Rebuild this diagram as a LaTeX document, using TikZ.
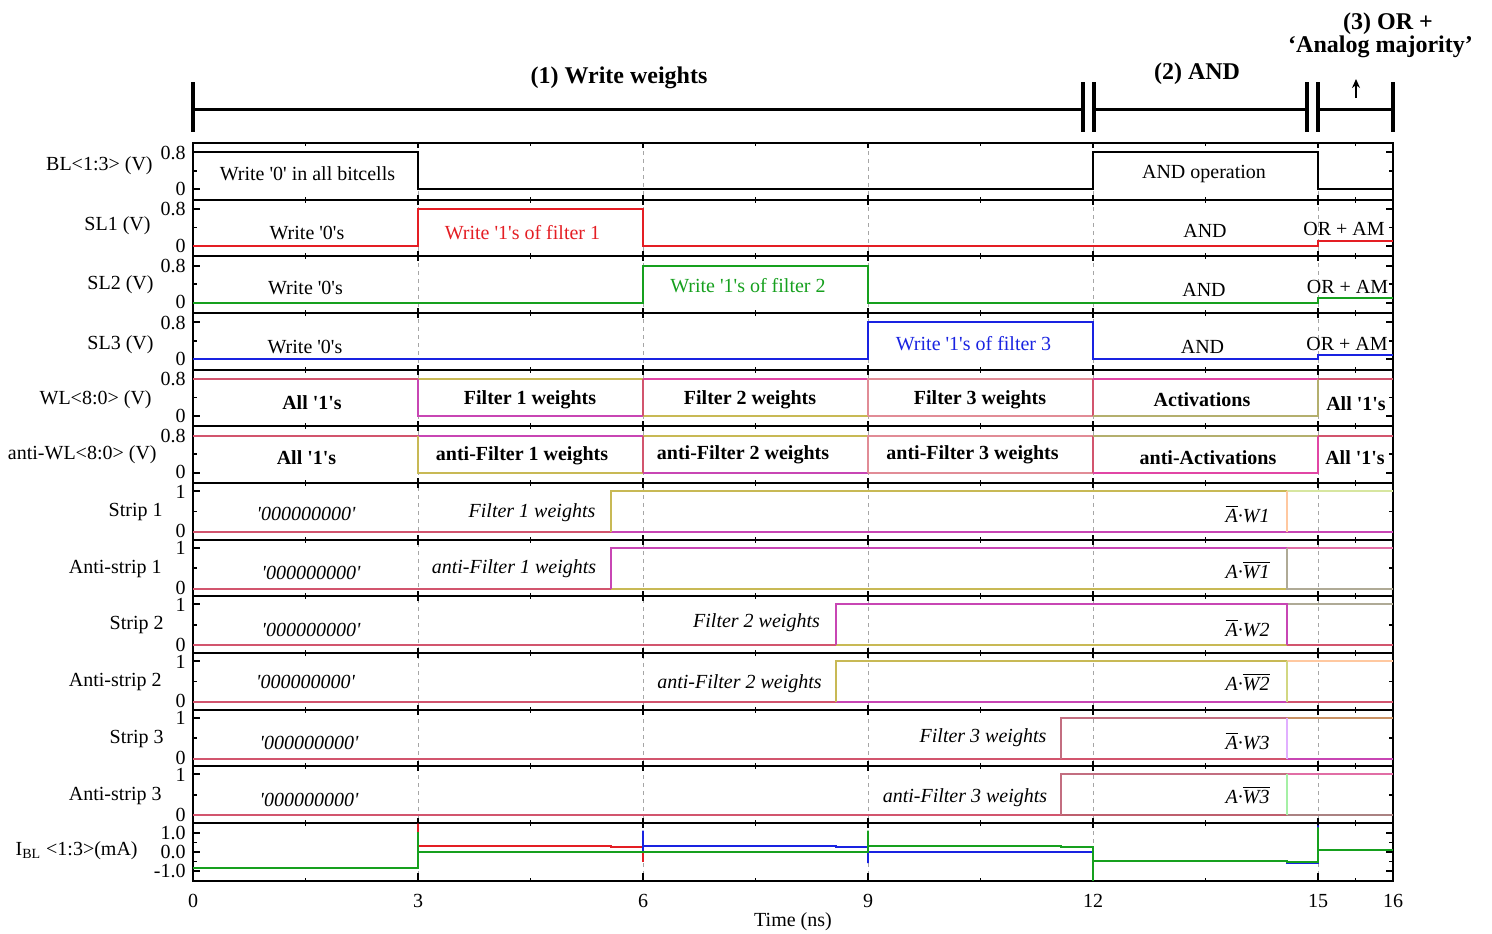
\documentclass[tikz,border=0pt]{standalone}
\usepackage{fontspec}
\setmainfont{Liberation Serif}
\usetikzlibrary{arrows.meta}

\definecolor{cRed}{RGB}{228,30,36}
\definecolor{cGreen}{RGB}{22,160,30}
\definecolor{cBlue}{RGB}{25,35,225}
\definecolor{cPR}{RGB}{210,85,110}
\definecolor{cPRl}{RGB}{225,140,150}
\definecolor{cMag}{RGB}{200,70,180}
\definecolor{cMagB}{RGB}{225,70,165}
\definecolor{cOli}{RGB}{200,185,85}
\definecolor{cOliG}{RGB}{180,175,110}
\definecolor{cLtGrn}{RGB}{215,230,160}
\definecolor{cPeach}{RGB}{255,200,160}
\definecolor{cGrayO}{RGB}{175,170,150}
\definecolor{cLtOli}{RGB}{210,215,130}
\definecolor{cBrown}{RGB}{200,145,100}
\definecolor{cViolet}{RGB}{225,175,255}
\definecolor{cRose}{RGB}{195,110,128}
\definecolor{cRoseD}{RGB}{190,95,110}
\definecolor{cPink}{RGB}{225,110,165}
\definecolor{cGrayB}{RGB}{170,130,130}
\definecolor{cMint}{RGB}{165,240,165}

\newcommand\sq{\textquotesingle}
\newcommand\ovl[1]{\ensuremath{\overline{\hbox{\itshape #1}}}}

\begin{document}
\begin{tikzpicture}[x=0.5pt,y=-0.5pt,
  txt/.style={inner sep=0pt, font=\fontsize{10}{12}\selectfont},
  boldtxt/.style={inner sep=0pt, font=\fontsize{10}{12}\selectfont\bfseries},
  itxt/.style={inner sep=0pt, font=\fontsize{10}{12}\selectfont\itshape},
  hdr/.style={inner sep=0pt, font=\fontsize{12}{14}\selectfont\bfseries},
  rowlbl/.style={txt, anchor=east},
  ticklbl/.style={txt, anchor=east},
  pframe/.style={line width=0.9pt, black},
  gridline/.style={black!35, line width=0.4pt, dash pattern=on 2pt off 2pt},
  sig/.style={line width=1pt},
  bar/.style={line width=1.8pt},
  span/.style={line width=1.5pt},
  vpan/.style={shift={(0,#1)}, y=23.125pt},
  spn/.style={shift={(0,#1)}, y=20.5pt},
  ipan/.style={shift={(0,#1)}, y=9.5pt},
]
\useasboundingbox (0,0) rectangle (1492,933);

% ---- phase brackets ----
\foreach \bx in {193,1083,1094,1307,1318,1393}
  \draw[bar] (\bx,82) -- (\bx,132);
\draw[span] (193,109) -- (1083,109);
\draw[span] (1094,109) -- (1307,109);
\draw[span] (1318,109) -- (1393,109);
\node[hdr] (h1) at (619,77.5) {(1) Write weights};
\node[hdr] (h2) at (1197,74) {(2) AND};
\node[hdr] (h3a) at (1388,23.5) {(3) OR +};
\node[hdr] (h3b) at (1380.5,46.5) {`Analog majority'};
\coordinate (arrB) at (1356,98);
\coordinate (arrT) at (1356,79);
\draw[line width=0.8pt, -{Stealth[length=4.5pt,width=4pt]}] (arrB) -- (arrT);

% ---- time axis scope: x in ns, y in px ----
\begin{scope}[shift={(193,0)}, x=37.5pt]
  \foreach \t in {3,6,9,12,15}
    \draw[gridline] (\t,143) -- (\t,881);

  % panel frames and x ticks
  \foreach \T in {143,199.67,256.33,313,369.67,426.33,483,539.67,596.33,653,709.67,766.33} {
    \draw[pframe] (0,\T) rectangle (16,\T+56.67);
  }
  \draw[pframe] (0,823) rectangle (16,881);
  \foreach \T/\B in {143/199.67,199.67/256.33,256.33/313,313/369.67,369.67/426.33,426.33/483,483/539.67,539.67/596.33,596.33/653,653/709.67,709.67/766.33,766.33/823,823/881} {
    \foreach \t in {3,6,9,12,15} {
      \draw[pframe] (\t,\T) -- ++(0,5);
      \draw[pframe] (\t,\B) -- ++(0,-5);
    }
    \foreach \t in {1.5,4.5,7.5,10.5,13.5,15.5} {
      \draw[pframe] (\t,\T) -- ++(0,3);
      \draw[pframe] (\t,\B) -- ++(0,-3);
    }
  }
  \foreach \t in {3,6,9,12,15} \draw[pframe] (\t,881) -- ++(0,-8);

  % y ticks, voltage panels
  \foreach \T in {143,199.67,256.33,313,369.67,426.33} {
    \foreach \d in {9.3,46.3} {
      \draw[pframe] (0,\T+\d) -- ++(3.5pt,0);
      \draw[pframe] (16,\T+\d) -- ++(-3.5pt,0);
    }
    \draw[pframe] (0,\T+27.8) -- ++(2pt,0);
    \draw[pframe] (16,\T+27.8) -- ++(-2pt,0);
  }
  % y ticks, strip panels
  \foreach \T in {483,539.67,596.33,653,709.67,766.33} {
    \foreach \d in {8,49} {
      \draw[pframe] (0,\T+\d) -- ++(3.5pt,0);
      \draw[pframe] (16,\T+\d) -- ++(-3.5pt,0);
    }
    \draw[pframe] (0,\T+28.5) -- ++(2pt,0);
    \draw[pframe] (16,\T+28.5) -- ++(-2pt,0);
  }
  % y ticks, current panel
  \foreach \yy in {833,852,871} {
    \draw[pframe] (0,\yy) -- ++(3.5pt,0);
    \draw[pframe] (16,\yy) -- ++(-3.5pt,0);
  }
  \foreach \yy in {842.5,861.5} {
    \draw[pframe] (0,\yy) -- ++(2pt,0);
    \draw[pframe] (16,\yy) -- ++(-2pt,0);
  }

  % ---- BL ----
  \begin{scope}[vpan=189.3]
    \draw[sig,black] (0,0.8) -- (3,0.8) -- (3,0) -- (12,0) -- (12,0.8) -- (15,0.8) -- (15,0) -- (16,0);
  \end{scope}
  % ---- SL1 ----
  \begin{scope}[vpan=246]
    \draw[sig,cRed] (0,0) -- (3,0) -- (3,0.8) -- (6,0.8) -- (6,0) -- (15,0) -- (15,0.11) -- (16,0.11);
  \end{scope}
  % ---- SL2 ----
  \begin{scope}[vpan=302.6]
    \draw[sig,cGreen] (0,0) -- (6,0) -- (6,0.8) -- (9,0.8) -- (9,0) -- (15,0) -- (15,0.1) -- (16,0.1);
  \end{scope}
  % ---- SL3 ----
  \begin{scope}[vpan=359.3]
    \draw[sig,cBlue] (0,0) -- (9,0) -- (9,0.8) -- (12,0.8) -- (12,0) -- (15,0) -- (15,0.1) -- (16,0.1);
  \end{scope}
  % ---- WL<8:0> ----
  \begin{scope}[vpan=416]
    \draw[sig,cPR] (0,0.8) -- (3,0.8);
    \draw[sig,cOli] (3,0.8) -- (6,0.8);
    \draw[sig,cMag] (3,0.8) -- (3,0) -- (6,0);
    \draw[sig,cOli] (6,0) -- (9,0);
    \draw[sig,cMagB] (6,0.8) -- (9,0.8);
    \draw[sig,cPR] (6,0) -- (6,0.8);
    \draw[sig,cPRl] (9,0) -- (9,0.8) -- (12,0.8);
    \draw[sig,cPRl] (9,0) -- (12,0);
    \draw[sig,cPR] (12,0) -- (12,0.8);
    \draw[sig,cMagB] (12,0.8) -- (15,0.8);
    \draw[sig,cOliG] (12,0) -- (15,0) -- (15,0.8);
    \draw[sig,cPR] (15,0.8) -- (16,0.8);
  \end{scope}
  % ---- anti-WL<8:0> ----
  \begin{scope}[vpan=472.6]
    \draw[sig,cPR] (0,0.8) -- (3,0.8);
    \draw[sig,cMag] (3,0.8) -- (6,0.8);
    \draw[sig,cOli] (3,0.8) -- (3,0) -- (6,0);
    \draw[sig,cOli] (6,0.8) -- (9,0.8);
    \draw[sig,cMag] (6,0) -- (9,0);
    \draw[sig,cPR] (6,0) -- (6,0.8);
    \draw[sig,cPRl] (9,0) -- (9,0.8) -- (12,0.8);
    \draw[sig,cPRl] (9,0) -- (12,0);
    \draw[sig,cPR] (12,0) -- (12,0.8);
    \draw[sig,cOliG] (12,0.8) -- (15,0.8);
    \draw[sig,cMagB] (12,0) -- (15,0) -- (15,0.8);
    \draw[sig,cPR] (15,0.8) -- (16,0.8);
  \end{scope}
  % ---- Strip 1 ----
  \begin{scope}[spn=532]
    \draw[sig,cPR] (0,0) -- (5.57,0);
    \draw[sig,cMag] (5.57,0) -- (16,0);
    \draw[sig,cOli] (5.57,0) -- (5.57,1) -- (14.59,1);
    \draw[sig,cLtGrn] (14.59,1) -- (16,1);
    \draw[sig,cPeach] (14.59,0) -- (14.59,1);
  \end{scope}
  % ---- Anti-strip 1 ----
  \begin{scope}[spn=588.7]
    \draw[sig,cPR] (0,0) -- (5.57,0);
    \draw[sig,cOli] (5.57,0) -- (14.59,0);
    \draw[sig,cMag] (5.57,0) -- (5.57,1) -- (14.59,1);
    \draw[sig,cPink] (14.59,1) -- (16,1);
    \draw[sig,cGrayO] (14.59,1) -- (14.59,0) -- (16,0);
  \end{scope}
  % ---- Strip 2 ----
  \begin{scope}[spn=645.3]
    \draw[sig,cPR] (0,0) -- (8.57,0);
    \draw[sig,cOli] (8.57,0) -- (14.59,0);
    \draw[sig,cGrayO] (14.59,1) -- (16,1);
    \draw[sig,cPR] (14.59,0) -- (16,0);
    \draw[sig,cMag] (8.57,0) -- (8.57,1) -- (14.59,1) -- (14.59,0);
  \end{scope}
  % ---- Anti-strip 2 ----
  \begin{scope}[spn=702]
    \draw[sig,cPR] (0,0) -- (8.57,0);
    \draw[sig,cMag] (8.57,0) -- (14.59,0);
    \draw[sig,cOli] (8.57,0) -- (8.57,1) -- (14.59,1);
    \draw[sig,cPeach] (14.59,1) -- (16,1);
    \draw[sig,cPR] (14.59,0) -- (16,0);
    \draw[sig,cLtOli] (14.59,0) -- (14.59,1);
  \end{scope}
  % ---- Strip 3 ----
  \begin{scope}[spn=758.7]
    \draw[sig,cPR] (0,0) -- (14.59,0);
    \draw[sig,cRose] (11.57,0) -- (11.57,1) -- (14.59,1);
    \draw[sig,cBrown] (14.59,1) -- (16,1);
    \draw[sig,cMag] (14.59,0) -- (16,0);
    \draw[sig,cViolet] (14.59,0) -- (14.59,1);
  \end{scope}
  % ---- Anti-strip 3 ----
  \begin{scope}[spn=815.3]
    \draw[sig,cPR] (0,0) -- (11.57,0);
    \draw[sig,cRoseD] (11.57,0) -- (14.59,0);
    \draw[sig,cRose] (11.57,0) -- (11.57,1) -- (14.59,1);
    \draw[sig,cPink] (14.59,1) -- (16,1);
    \draw[sig,cGrayB] (14.59,0) -- (16,0);
    \draw[sig,cMint] (14.59,0) -- (14.59,1);
  \end{scope}
  % ---- bit-line currents ----
  \begin{scope}[ipan=852]
    \draw[sig,cRed] (0,-0.85) -- (3,-0.85) -- (3,1.5) -- (3,0.33) -- (5.57,0.33) -- (5.57,0.25) -- (6,0.25) -- (6,-0.52) -- (6,0) -- (12,0) -- (12,-0.46) -- (14.59,-0.46) -- (14.59,-0.54) -- (15,-0.54) -- (15,0.1) -- (16,0.1);
    \draw[sig,cBlue] (0,-0.85) -- (3,-0.85) -- (3,0) -- (6,0) -- (6,1.12) -- (6,0.33) -- (8.57,0.33) -- (8.57,0.25) -- (9,0.25) -- (9,-0.58) -- (9,0) -- (12,0) -- (12,-0.46) -- (14.59,-0.46) -- (14.59,-0.58) -- (15,-0.58) -- (15,1.4) -- (15,0.1) -- (16,0.1);
    \draw[sig,cGreen] (0,-0.85) -- (3,-0.85) -- (3,1.05) -- (3,0) -- (9,0) -- (9,1.12) -- (9,0.33) -- (11.57,0.33) -- (11.57,0.25) -- (12,0.25) -- (12,-1.52) -- (12,-0.46) -- (14.59,-0.46) -- (14.59,-0.54) -- (15,-0.54) -- (15,1.3) -- (15,0.1) -- (16,0.1);
  \end{scope}
\end{scope}

% ---- y tick labels ----
\foreach \T [count=\i] in {143,199.67,256.33,313,369.67,426.33} {
  \node[ticklbl] (vhi\i) at (186,\T+9.6) {0.8};
  \node[ticklbl] (vlo\i) at (186,\T+45.8) {0};
}
\foreach \T [count=\i] in {483,539.67,596.33,653,709.67,766.33} {
  \node[ticklbl] (shi\i) at (186,\T+8.6) {1};
  \node[ticklbl] (slo\i) at (186,\T+48.2) {0};
}
\node[ticklbl] (ihi) at (186,833) {1.0};
\node[ticklbl] (imid) at (186,852) {0.0};
\node[ticklbl] (ilo) at (186,871) {-1.0};

% ---- x tick labels ----
\foreach \t/\xx in {0/193,3/418,6/643,9/868,12/1093,15/1318,16/1393}
  \node[txt] (xt\t) at (\xx,901) {\t};
\node[txt] (xlabel) at (793,922) {Time (ns)};

% ---- row labels ----
\node[rowlbl] (rBL) at (153,165.5) {BL<1:3> (V)};
\node[rowlbl] (rSL1) at (151,226) {SL1 (V)};
\node[rowlbl] (rSL2) at (154,285) {SL2 (V)};
\node[rowlbl] (rSL3) at (154,345) {SL3 (V)};
\node[rowlbl] (rWL) at (152,400) {WL<8:0> (V)};
\node[rowlbl] (rAWL) at (157,455) {anti-WL<8:0> (V)};
\node[rowlbl] (rS1) at (163,512) {Strip 1};
\node[rowlbl] (rAS1) at (162,569) {Anti-strip 1};
\node[rowlbl] (rS2) at (164,625) {Strip 2};
\node[rowlbl] (rAS2) at (162,682) {Anti-strip 2};
\node[rowlbl] (rS3) at (164,739) {Strip 3};
\node[rowlbl] (rAS3) at (162,796) {Anti-strip 3};
\node[rowlbl] (rIBL) at (138,851) {I\textsubscript{BL} <1:3>(mA)};

% ---- annotations: BL and SL rows ----
\node[txt] (aBL1) at (307.5,174) {Write \sq0\sq{} in all bitcells};
\node[txt] (aBL2) at (1204,174) {AND operation};
\node[txt] (aS1a) at (307,232.5) {Write \sq0\sq s};
\node[txt,text=cRed] (aS1b) at (522.5,232.5) {Write \sq1\sq s of filter 1};
\node[txt] (aS1c) at (1205,231) {AND};
\node[txt] (aS1d) at (1344,229) {OR + AM};
\node[txt] (aS2a) at (305.5,288) {Write \sq0\sq s};
\node[txt,text=cGreen] (aS2b) at (748,286) {Write \sq1\sq s of filter 2};
\node[txt] (aS2c) at (1204,290) {AND};
\node[txt] (aS2d) at (1347.5,287) {OR + AM};
\node[txt] (aS3a) at (305,346.5) {Write \sq0\sq s};
\node[txt,text=cBlue] (aS3b) at (973.5,344) {Write \sq1\sq s of filter 3};
\node[txt] (aS3c) at (1202.5,346.5) {AND};
\node[txt] (aS3d) at (1347,344) {OR + AM};

% ---- annotations: word-line rows ----
\node[boldtxt] (aW1) at (312,402.5) {All \sq1\sq s};
\node[boldtxt] (aW2) at (530,400) {Filter 1 weights};
\node[boldtxt] (aW3) at (750,400) {Filter 2 weights};
\node[boldtxt] (aW4) at (980,400) {Filter 3 weights};
\node[boldtxt] (aW5) at (1202,400) {Activations};
\node[boldtxt] (aW6) at (1356,404) {All \sq1\sq s};
\node[boldtxt] (aA1) at (306.5,458) {All \sq1\sq s};
\node[boldtxt] (aA2) at (522,455.5) {anti-Filter 1 weights};
\node[boldtxt] (aA3) at (743,455) {anti-Filter 2 weights};
\node[boldtxt] (aA4) at (972.5,455) {anti-Filter 3 weights};
\node[boldtxt] (aA5) at (1208,457.5) {anti-Activations};
\node[boldtxt] (aA6) at (1355,458) {All \sq1\sq s};

% ---- annotations: strip rows ----
\node[itxt] (z1) at (306,514) {\sq000000000\sq};
\node[itxt] (z2) at (311,572.5) {\sq000000000\sq};
\node[itxt] (z3) at (311,630) {\sq000000000\sq};
\node[itxt] (z4) at (305.5,682) {\sq000000000\sq};
\node[itxt] (z5) at (309,742.5) {\sq000000000\sq};
\node[itxt] (z6) at (309,800) {\sq000000000\sq};
\node[itxt] (f1) at (532,512.5) {Filter 1 weights};
\node[itxt] (f2) at (514,569) {anti-Filter 1 weights};
\node[itxt] (f3) at (756.5,622.5) {Filter 2 weights};
\node[itxt] (f4) at (739.5,684) {anti-Filter 2 weights};
\node[itxt] (f5) at (983,738) {Filter 3 weights};
\node[itxt] (f6) at (965,798) {anti-Filter 3 weights};
\node[itxt,anchor=base east] (g1) at (1270,522) {\ovl{A}·W1};
\node[itxt,anchor=base east] (g2) at (1270,578) {A·\ovl{W1}};
\node[itxt,anchor=base east] (g3) at (1270,636) {\ovl{A}·W2};
\node[itxt,anchor=base east] (g4) at (1270,690) {A·\ovl{W2}};
\node[itxt,anchor=base east] (g5) at (1270,749) {\ovl{A}·W3};
\node[itxt,anchor=base east] (g6) at (1270,803) {A·\ovl{W3}};
\end{tikzpicture}
\end{document}
